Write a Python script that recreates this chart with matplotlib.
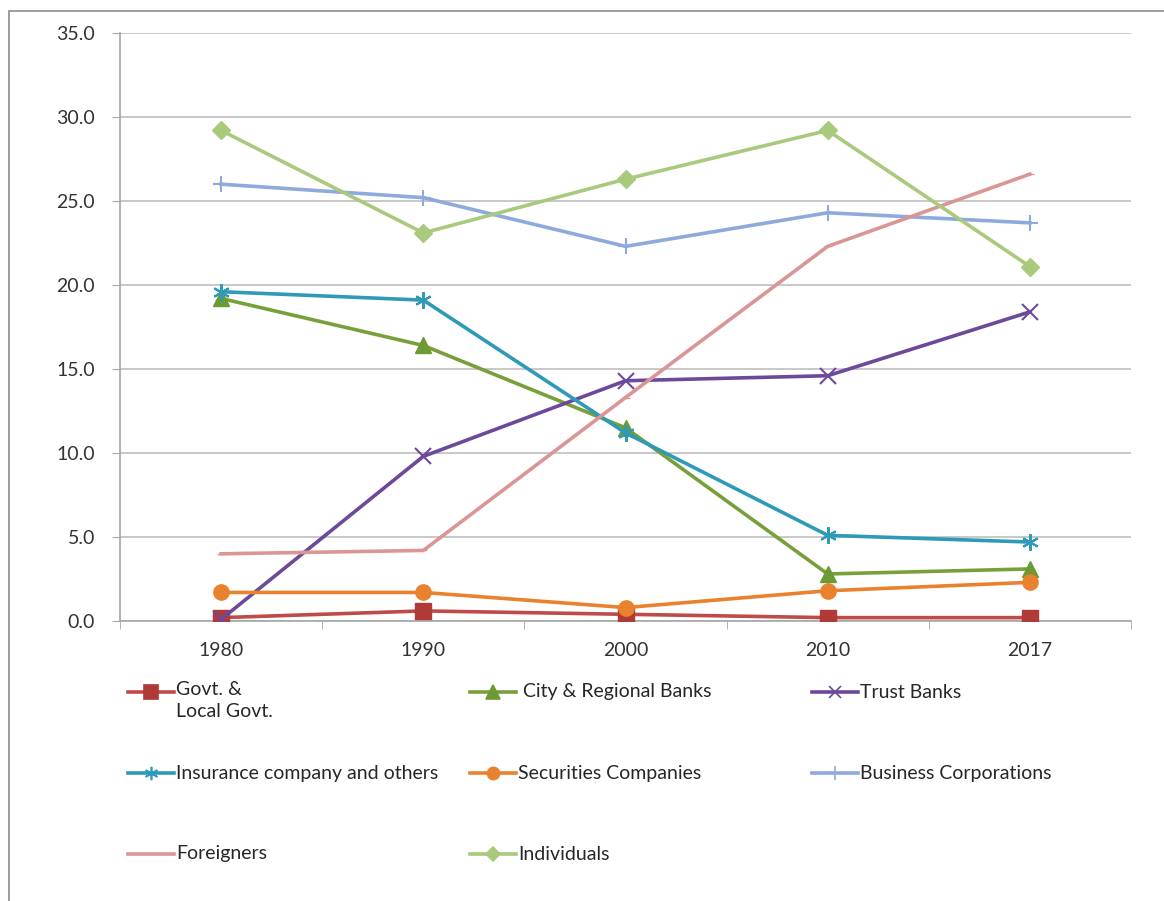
import numpy as np
import matplotlib.pyplot as plt
from matplotlib.lines import Line2D
from matplotlib.patches import Rectangle
from matplotlib.ticker import FormatStrFormatter

plt.rcParams['font.family'] = ['Lato', 'DejaVu Sans']

# data
years = ['1980', '1990', '2000', '2010', '2017']
govt = [0.2, 0.6, 0.4, 0.2, 0.2]
city_banks = [19.2, 16.4, 11.5, 2.8, 3.1]
trust_banks = [0.1, 9.8, 14.3, 14.6, 18.4]
insurance = [19.6, 19.1, 11.2, 5.1, 4.7]
securities = [1.7, 1.7, 0.8, 1.8, 2.3]
business = [26.0, 25.2, 22.3, 24.3, 23.7]
foreigners = [4.0, 4.2, 13.3, 22.3, 26.6]
individuals = [29.2, 23.1, 26.3, 29.2, 21.1]

# label, values, line colour, marker, marker size, marker colour
series = [
    ('Govt. &\nLocal Govt.', govt, '#BE4B48', 's', 12, '#B03A38'),
    (' City & Regional Banks', city_banks, '#77A03A', '^', 12, '#6E9A35'),
    ('Trust Banks', trust_banks, '#6C4A99', 'x', 11, '#6C4A99'),
    ('Insurance company and others', insurance, '#2E9AB8', (6, 2, 0), 12, '#2E9AB8'),
    ('Securities Companies', securities, '#E9822F', 'o', 11, '#E9822F'),
    ('Business Corporations', business, '#8EA9DB', '+', 12, '#8EA9DB'),
    ('Foreigners', foreigners, '#D99694', '_', 6, '#D99694'),
    ('Individuals', individuals, '#A9C97D', 'D', 9, '#A9C97D'),
]

fig = plt.figure(figsize=(11.64, 9.01), dpi=100)
ax = fig.add_axes([120/1164, 1-621/901, (1131-120)/1164, (621-33)/901])

x = np.arange(len(years))
for lab, vals, col, mk, ms, mc in series:
    ax.plot(x, vals, color=col, lw=2.6, marker=mk, ms=ms, mfc=mc, mec=mc,
            mew=1.5 if mk in ('x', '+', (6, 2, 0)) else 1, zorder=3)

ax.set_xlim(-0.5, len(years)-0.5)
ax.set_ylim(0, 35)
ax.set_yticks(np.arange(0, 35.1, 5))
ax.yaxis.set_major_formatter(FormatStrFormatter('%.1f'))
ax.set_xticks(x)
ax.set_xticklabels(years)
ax.set_xticks(np.arange(-0.5, len(years), 1), minor=True)
ax.tick_params(axis='x', which='major', length=0, pad=15, labelsize=14, colors='#333333')
ax.tick_params(axis='x', which='minor', length=6, color='#A6A6A6', direction='out')
ax.tick_params(axis='y', length=6, color='#A6A6A6', pad=12, labelsize=14, colors='#333333')
ax.tick_params(axis='y', color='#A6A6A6')
ax.grid(axis='y', color='#BFBFBF', lw=1.2)
ax.set_axisbelow(True)
for s in ('top', 'right'):
    ax.spines[s].set_visible(False)
for s in ('left', 'bottom'):
    ax.spines[s].set_color('#A6A6A6')
    ax.spines[s].set_linewidth(1.2)

# legend drawn by hand in a 3x3 grid
col_x = [128, 470, 812]
row_y = [692, 773, 854]
for i, (lab, vals, col, mk, ms, mc) in enumerate(series):
    cx = col_x[i % 3]
    cy = row_y[i // 3]
    fy = 1 - cy/901
    fig.add_artist(Line2D([cx/1164, (cx+46)/1164], [fy, fy], color=col, lw=2.6,
                          transform=fig.transFigure))
    fig.add_artist(Line2D([(cx+23)/1164], [fy], marker=mk, ms=ms*0.8, color=mc,
                          mfc=mc, mec=mc, mew=1.2, transform=fig.transFigure))
    if '\n' in lab:
        fig.text((cx+48)/1164, 1-(cy-11)/901, lab, ha='left', va='top',
                 fontsize=14, color='#262626', linespacing=1.35)
    else:
        fig.text((cx+48)/1164, fy, lab, ha='left', va='center',
                 fontsize=14, color='#262626')

fig.add_artist(Rectangle((9/1164, -0.05), 1.2, 1-11/901+0.05, fill=False,
                         edgecolor='#8C8C8C', lw=1.2, transform=fig.transFigure))

fig.savefig('out.png', dpi=100)
